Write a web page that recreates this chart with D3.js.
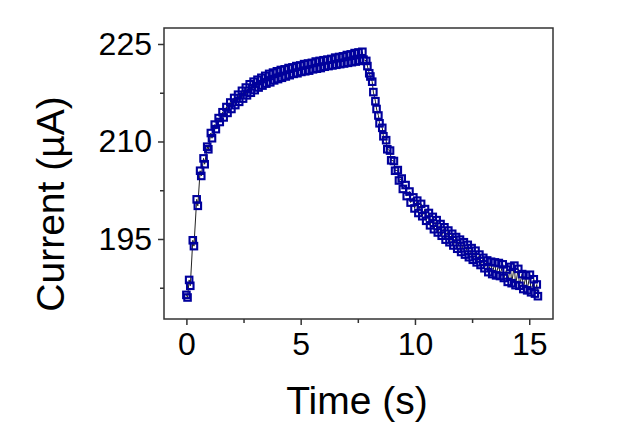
<!DOCTYPE html>
<html>
<head>
<meta charset="utf-8">
<script src="https://cdn.jsdelivr.net/npm/d3@7"></script>
<style>
  html, body { margin: 0; padding: 0; background: #fff; }
  svg { display: block; }
  text { font-family: Arial, "Liberation Sans", sans-serif; fill: #000; }
</style>
</head>
<body>
<svg id="chart" width="624" height="430"></svg>
<script>
// ---- data ----
const pairTimes = [0, 0.12, 0.28, 0.45, 0.6, 0.75, 0.91, 1.07, 1.24, 1.41,
  1.58, 1.75, 1.92, 2.09, 2.26, 2.43, 2.6, 2.77, 2.94, 3.11,
  3.28, 3.45, 3.62, 3.79, 3.96, 4.13, 4.3, 4.47, 4.64, 4.81,
  4.98, 5.15, 5.32, 5.49, 5.66, 5.83, 6.0, 6.17, 6.34, 6.51,
  6.68, 6.85, 7.02, 7.19, 7.36, 7.53, 7.7, 7.87, 8.0, 8.13,
  8.27, 8.4, 8.57, 8.74, 8.91, 9.08, 9.25, 9.42, 9.59, 9.76,
  9.93, 10.1, 10.27, 10.44, 10.61, 10.78, 10.95, 11.12, 11.29, 11.46,
  11.63, 11.8, 11.97, 12.14, 12.31, 12.48, 12.65, 12.82, 12.99, 13.16,
  13.33, 13.5, 13.67, 13.84, 14.01, 14.18, 14.35, 14.52, 14.69, 14.86,
  15.03, 15.2, 15.33];
const currentHigh = [186.4, 188.7, 194.8, 201.1, 205.5, 207.4, 209.2, 211.3, 212.6, 213.6,
  214.5, 215.3, 216.0, 216.7, 217.2, 217.8, 218.3, 218.8, 219.2, 219.5,
  219.8, 220.1, 220.4, 220.6, 220.8, 221.0, 221.1, 221.3, 221.4, 221.6,
  221.7, 221.9, 222.0, 222.1, 222.3, 222.4, 222.5, 222.6, 222.7, 222.9,
  223.0, 223.1, 223.3, 223.4, 223.6, 223.7, 223.8, 222.4, 220.5, 219.2,
  216.2, 214.0, 212.1, 210.2, 208.6, 207.0, 205.6, 204.3, 203.3, 202.3,
  201.4, 200.9, 200.4, 199.6, 199.0, 198.4, 197.9, 197.3, 196.8, 196.3,
  195.8, 195.3, 194.9, 194.5, 194.1, 193.6, 193.2, 192.6, 192.1, 191.7,
  191.5, 191.4, 191.3, 191.1, 190.3, 190.7, 190.9, 190.4, 189.6, 189.4,
  189.5, 188.8, 188.0];
const currentLow = [186.0, 187.8, 193.9, 200.1, 204.7, 206.5, 208.8, 210.5, 211.9, 213.0,
  213.7, 214.4, 215.0, 215.6, 216.1, 216.6, 217.1, 217.5, 217.9, 218.3,
  218.6, 218.9, 219.1, 219.4, 219.6, 219.8, 220.0, 220.2, 220.4, 220.5,
  220.7, 220.8, 220.9, 221.1, 221.2, 221.3, 221.5, 221.6, 221.7, 221.8,
  221.9, 222.0, 222.1, 222.2, 222.3, 222.4, 222.6, 221.6, 220.0, 217.6,
  215.0, 212.8, 210.8, 208.8, 207.1, 205.5, 204.0, 202.7, 201.6, 200.6,
  199.7, 199.0, 198.5, 197.8, 197.1, 196.5, 196.0, 195.5, 194.9, 194.5,
  194.0, 193.5, 193.0, 192.6, 192.2, 191.8, 191.4, 191.0, 190.5, 189.9,
  189.6, 189.4, 189.3, 189.0, 188.4, 188.2, 187.9, 187.8, 187.3, 187.1,
  186.8, 186.6, 186.2];
const xTickValues = [0, 5, 10, 15];
const xMinorTicks = [2.5, 7.5, 12.5];
const yTickValues = [195, 210, 225];
const yMinorTicks = [187.5, 202.5, 217.5];
const xTitle = "Time (s)";
const yTitle = "Current (\u00B5A)";

// ---- build point list (pair members a short time apart) ----
const points = [];
pairTimes.forEach((t, i) => {
  points.push({ t: t, v: currentHigh[i] });
  points.push({ t: t + 0.05, v: currentLow[i] });
});

// ---- layout ----
const svg = d3.select("#chart");
const box = { left: 164, top: 28, right: 553, bottom: 319 };

const x = d3.scaleLinear().domain([-0.98, 16.04]).range([box.left, box.right]);
const y = d3.scaleLinear().domain([182.69, 227.46]).range([box.bottom, box.top]);

const axisColor = "#333";
const fontStack = "Arial, 'Liberation Sans', sans-serif";

// frame
svg.append("rect")
  .attr("x", box.left).attr("y", box.top)
  .attr("width", box.right - box.left).attr("height", box.bottom - box.top)
  .attr("fill", "none").attr("stroke", axisColor).attr("stroke-width", 1.5);

// x axis
const xAxis = svg.append("g").attr("transform", `translate(0,${box.bottom})`)
  .call(d3.axisBottom(x).tickValues(xTickValues).tickSize(6).tickPadding(7).tickFormat(d3.format("d")));
xAxis.select(".domain").remove();
xAxis.selectAll(".tick line").attr("stroke", axisColor).attr("stroke-width", 1.5);
xAxis.selectAll(".tick text").style("font-size", "32px").style("font-family", fontStack).attr("fill", "#000");
const xMinor = svg.append("g").attr("transform", `translate(0,${box.bottom})`)
  .call(d3.axisBottom(x).tickValues(xMinorTicks).tickSize(4).tickFormat(""));
xMinor.select(".domain").remove();
xMinor.selectAll(".tick line").attr("stroke", axisColor).attr("stroke-width", 1.5);

// y axis
const yAxis = svg.append("g").attr("transform", `translate(${box.left},0)`)
  .call(d3.axisLeft(y).tickValues(yTickValues).tickSize(6).tickPadding(6).tickFormat(d3.format("d")));
yAxis.select(".domain").remove();
yAxis.selectAll(".tick line").attr("stroke", axisColor).attr("stroke-width", 1.5);
yAxis.selectAll(".tick text").style("font-size", "32px").style("font-family", fontStack).attr("fill", "#000");
const yMinor = svg.append("g").attr("transform", `translate(${box.left},0)`)
  .call(d3.axisLeft(y).tickValues(yMinorTicks).tickSize(4).tickFormat(""));
yMinor.select(".domain").remove();
yMinor.selectAll(".tick line").attr("stroke", axisColor).attr("stroke-width", 1.5);

// titles
svg.append("text")
  .attr("x", 357).attr("y", 414)
  .attr("text-anchor", "middle")
  .style("font-size", "39px")
  .text(xTitle);
svg.append("text")
  .attr("transform", "translate(64,204) rotate(-90)")
  .attr("text-anchor", "middle")
  .style("font-size", "39px")
  .text(yTitle);

// connecting line
const line = d3.line().x(d => x(d.t)).y(d => y(d.v));
svg.append("path")
  .datum(points)
  .attr("d", line)
  .attr("fill", "none")
  .attr("stroke", "#222")
  .attr("stroke-width", 1);

// markers: open squares
const s = 6.5;
svg.append("g").selectAll("rect")
  .data(points)
  .join("rect")
  .attr("x", d => x(d.t) - s / 2)
  .attr("y", d => y(d.v) - s / 2)
  .attr("width", s).attr("height", s)
  .attr("fill", "none")
  .attr("stroke", "#00009c")
  .attr("stroke-width", 2.1);
</script>
</body>
</html>
